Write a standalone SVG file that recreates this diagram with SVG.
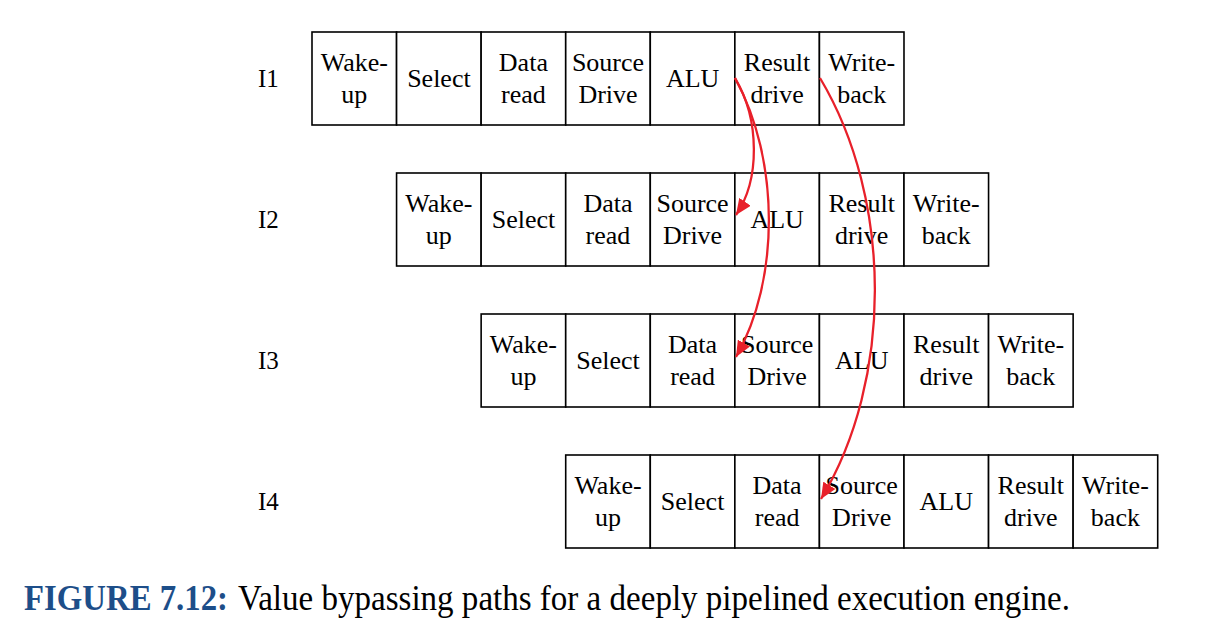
<svg xmlns="http://www.w3.org/2000/svg" width="1217" height="633" viewBox="0 0 1217 633">
<style>
.c{fill:#fff;stroke:#000;stroke-width:1.6}
.t{font-family:"Liberation Serif",serif;font-size:26px;fill:#000;text-anchor:middle}
.l{font-family:"Liberation Serif",serif;font-size:25px;fill:#000}
.a{fill:none;stroke:#e8202a;stroke-width:2.3}
.cap{font-family:"Liberation Serif",serif;font-size:35px}
</style>
<defs>
<marker id="ah" markerUnits="userSpaceOnUse" markerWidth="17" markerHeight="14" refX="16" refY="7" orient="auto">
<path d="M0,0 L16,7 L0,14 z" fill="#e8202a"/>
</marker>
<g id="row">
<rect class="c" x="0" y="0" width="84.57" height="93"/>
<rect class="c" x="84.57" y="0" width="84.57" height="93"/>
<rect class="c" x="169.14" y="0" width="84.57" height="93"/>
<rect class="c" x="253.71" y="0" width="84.57" height="93"/>
<rect class="c" x="338.28" y="0" width="84.57" height="93"/>
<rect class="c" x="422.85" y="0" width="84.57" height="93"/>
<rect class="c" x="507.42" y="0" width="84.57" height="93"/>
<text class="t" x="42.3" y="39">Wake-</text><text class="t" x="42.3" y="71">up</text>
<text class="t" x="126.9" y="55">Select</text>
<text class="t" x="211.4" y="39">Data</text><text class="t" x="211.4" y="71">read</text>
<text class="t" x="296" y="39">Source</text><text class="t" x="296" y="71">Drive</text>
<text class="t" x="380.6" y="55">ALU</text>
<text class="t" x="465.1" y="39">Result</text><text class="t" x="465.1" y="71">drive</text>
<text class="t" x="549.7" y="39">Write-</text><text class="t" x="549.7" y="71">back</text>
</g>
</defs>
<g id="I1"><text class="l" x="258" y="87">I1</text><use href="#row" x="312" y="32"/></g>
<g id="I2"><text class="l" x="258" y="228">I2</text><use href="#row" x="396.57" y="173"/></g>
<g id="I3"><text class="l" x="258" y="369">I3</text><use href="#row" x="481.14" y="314"/></g>
<g id="I4"><text class="l" x="258" y="510">I4</text><use href="#row" x="565.71" y="455"/></g>
<g id="connectors">
<path class="a" marker-end="url(#ah)" d="M735,78 C760,120 760,180 736,215"/>
<path class="a" marker-end="url(#ah)" d="M735,78 C780,160 780,280 736,357"/>
<path class="a" marker-end="url(#ah)" d="M820,78 C893,200 893,380 821,499"/>
</g>
<g id="caption">
<text class="cap" x="24" y="610" font-weight="bold" fill="#1d4e89" textLength="204" lengthAdjust="spacingAndGlyphs">FIGURE 7.12:</text>
<text class="cap" x="238" y="610" fill="#000" textLength="832" lengthAdjust="spacingAndGlyphs">Value bypassing paths for a deeply pipelined execution engine.</text>
</g>
</svg>
